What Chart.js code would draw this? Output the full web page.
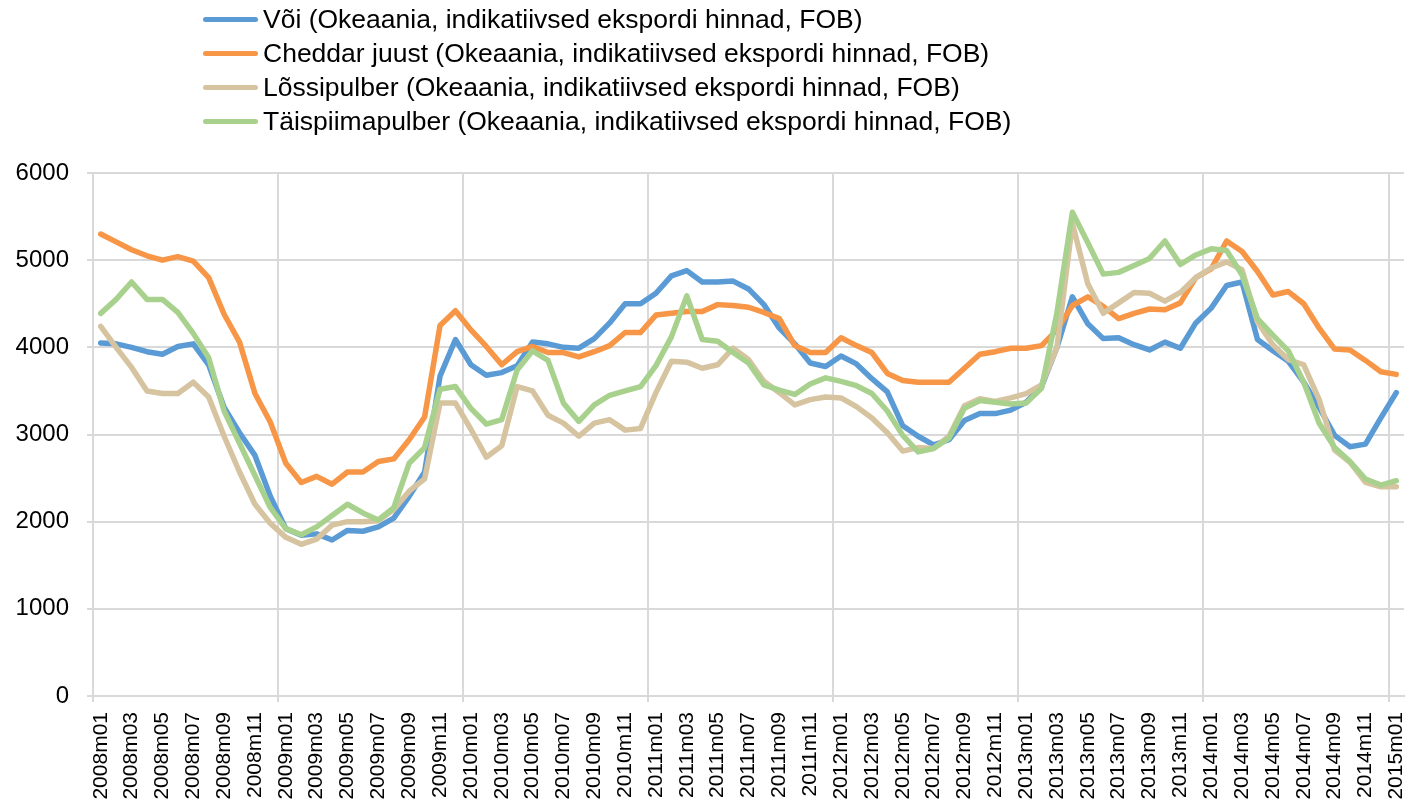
<!DOCTYPE html>
<html><head><meta charset="utf-8">
<script src="https://cdn.jsdelivr.net/npm/chart.js@4"></script>
<style>
html,body{margin:0;padding:0;background:#fff;}
#wrap{position:relative;width:1417px;height:802px;overflow:hidden;}
canvas{position:absolute;left:0;top:0;}
#legend{position:absolute;left:203px;top:2px;font-family:Arial,"Liberation Sans",sans-serif;font-size:26.5px;color:#000;line-height:34px;}
.item{display:flex;align-items:center;height:34px;white-space:nowrap;}
.sw{width:55px;height:5px;border-radius:3px;margin-right:5px;flex:none;}
</style></head>
<body><div id="wrap"><canvas id="c" width="1417" height="802"></canvas><div id="legend"></div></div>
<script>
const categories = [
"2008m01","2008m02","2008m03","2008m04","2008m05","2008m06","2008m07","2008m08","2008m09","2008m10","2008m11","2008m12",
"2009m01","2009m02","2009m03","2009m04","2009m05","2009m06","2009m07","2009m08","2009m09","2009m10","2009m11","2009m12",
"2010m01","2010m02","2010m03","2010m04","2010m05","2010m06","2010m07","2010m08","2010m09","2010m10","2010m11","2010m12",
"2011m01","2011m02","2011m03","2011m04","2011m05","2011m06","2011m07","2011m08","2011m09","2011m10","2011m11","2011m12",
"2012m01","2012m02","2012m03","2012m04","2012m05","2012m06","2012m07","2012m08","2012m09","2012m10","2012m11","2012m12",
"2013m01","2013m02","2013m03","2013m04","2013m05","2013m06","2013m07","2013m08","2013m09","2013m10","2013m11","2013m12",
"2014m01","2014m02","2014m03","2014m04","2014m05","2014m06","2014m07","2014m08","2014m09","2014m10","2014m11","2014m12",
"2015m01"];

const seriesNames = [
"Või (Okeaania, indikatiivsed ekspordi hinnad, FOB)",
"Cheddar juust (Okeaania, indikatiivsed ekspordi hinnad, FOB)",
"Lõssipulber (Okeaania, indikatiivsed ekspordi hinnad, FOB)",
"Täispiimapulber (Okeaania, indikatiivsed ekspordi hinnad, FOB)"];

const voi = [4050,4040,4000,3950,3920,4010,4040,3800,3310,3020,2760,2290,
1920,1845,1860,1790,1900,1890,1940,2040,2290,2570,3670,4090,
3800,3680,3710,3790,4060,4040,4000,3990,4100,4280,4500,4500,
4620,4820,4880,4750,4750,4760,4670,4490,4220,4040,3820,3780,
3900,3810,3640,3490,3100,2980,2880,2940,3160,3240,3240,3280,
3370,3550,4000,4580,4270,4100,4110,4030,3970,4060,3990,4280,
4450,4710,4750,4090,3960,3840,3600,3310,2990,2860,2890,3190,
3480];

const cheddar = [5300,5210,5120,5050,5000,5040,4990,4800,4380,4060,3470,3140,
2670,2450,2520,2430,2570,2570,2690,2720,2940,3200,4250,4420,
4200,4010,3800,3950,4010,3940,3940,3890,3950,4020,4170,4170,
4370,4390,4410,4410,4490,4480,4460,4400,4330,4020,3940,3940,
4110,4020,3940,3700,3620,3600,3600,3600,3760,3920,3950,3990,
3990,4020,4200,4480,4580,4470,4330,4390,4440,4430,4510,4800,
4900,5220,5100,4870,4600,4640,4500,4220,3980,3970,3850,3720,
3690];

const lossipulber = [4240,4000,3770,3500,3470,3470,3600,3430,2980,2570,2200,1980,
1820,1740,1800,1960,2000,2000,2010,2140,2350,2490,3360,3360,
3060,2740,2870,3550,3500,3220,3130,2980,3130,3170,3050,3070,
3480,3840,3830,3760,3800,3990,3860,3610,3480,3340,3400,3430,
3420,3320,3190,3020,2810,2850,2840,2980,3330,3410,3380,3420,
3470,3570,4000,5420,4730,4390,4510,4630,4620,4530,4630,4800,
4910,4980,4890,4290,4030,3860,3800,3400,2820,2680,2450,2400,
2400];

const taispiim = [4390,4550,4750,4550,4550,4400,4160,3880,3270,2900,2530,2160,
1920,1850,1940,2070,2200,2100,2020,2160,2670,2850,3520,3550,
3300,3120,3170,3740,3960,3850,3360,3150,3340,3450,3500,3550,
3790,4120,4590,4090,4070,3940,3820,3570,3510,3460,3580,3650,
3610,3560,3470,3270,2990,2800,2840,2960,3300,3390,3370,3350,
3360,3530,4400,5550,5200,4840,4860,4940,5020,5220,4950,5060,
5130,5110,4830,4330,4140,3960,3600,3130,2850,2690,2490,2420,
2470];

const yTicks = [0,1000,2000,3000,4000,5000,6000];
const colors = ["#5B9BD5","#F79646","#D6C4A0","#A9D18E"];
const values = [voi, cheddar, lossipulber, taispiim];

const gridColor = "#d9d9d9";
const datasets = values.map((v, i) => ({
  label: seriesNames[i],
  data: v,
  borderColor: colors[i],
  backgroundColor: colors[i],
  borderWidth: 5.5,
  pointRadius: 0,
  pointHoverRadius: 0,
  tension: 0,
  fill: false,
  borderJoinStyle: 'round',
  borderCapStyle: 'round',
  order: 4 - i
}));

const chart = new Chart(document.getElementById('c'), {
  type: 'line',
  data: { labels: categories, datasets },
  options: {
    responsive: false,
    animation: false,
    devicePixelRatio: 1,
    layout: { padding: { left: 14, right: 13, top: 173, bottom: 2 } },
    plugins: { legend: { display: false }, tooltip: { enabled: false } },
    scales: {
      x: {
        offset: true,
        afterFit: s => { s.height = 104; s.paddingLeft = 0; s.paddingRight = 0; },
        grid: {
          offset: true,
          color: c => (c.index % 12 === 0) ? gridColor : 'rgba(0,0,0,0)',
          lineWidth: 2,
          tickLength: 6
        },
        border: { display: true, color: gridColor, width: 2 },
        ticks: {
          autoSkip: false, maxRotation: 90, minRotation: 90, padding: 10,
          color: '#000',
          font: { family: 'Arial, "Liberation Sans", sans-serif', size: 21 },
          callback: (v, i) => (i % 2 === 0) ? categories[i] : ''
        }
      },
      y: {
        min: yTicks[0], max: yTicks[yTicks.length - 1],
        afterFit: s => { s.width = 79; },
        afterBuildTicks: s => { s.ticks = yTicks.map(v => ({ value: v })); },
        grid: { color: gridColor, lineWidth: 2, tickLength: 6 },
        border: { display: true, color: gridColor, width: 2 },
        ticks: {
          padding: 18, color: '#000',
          font: { family: 'Arial, "Liberation Sans", sans-serif', size: 24 },
          callback: v => String(v)
        }
      }
    }
  }
});

const leg = document.getElementById('legend');
chart.data.datasets.forEach(ds => {
  const it = document.createElement('div'); it.className = 'item';
  const sw = document.createElement('span'); sw.className = 'sw'; sw.style.background = ds.borderColor;
  const tx = document.createElement('span'); tx.textContent = ds.label;
  it.appendChild(sw); it.appendChild(tx); leg.appendChild(it);
});
</script>
</body></html>
